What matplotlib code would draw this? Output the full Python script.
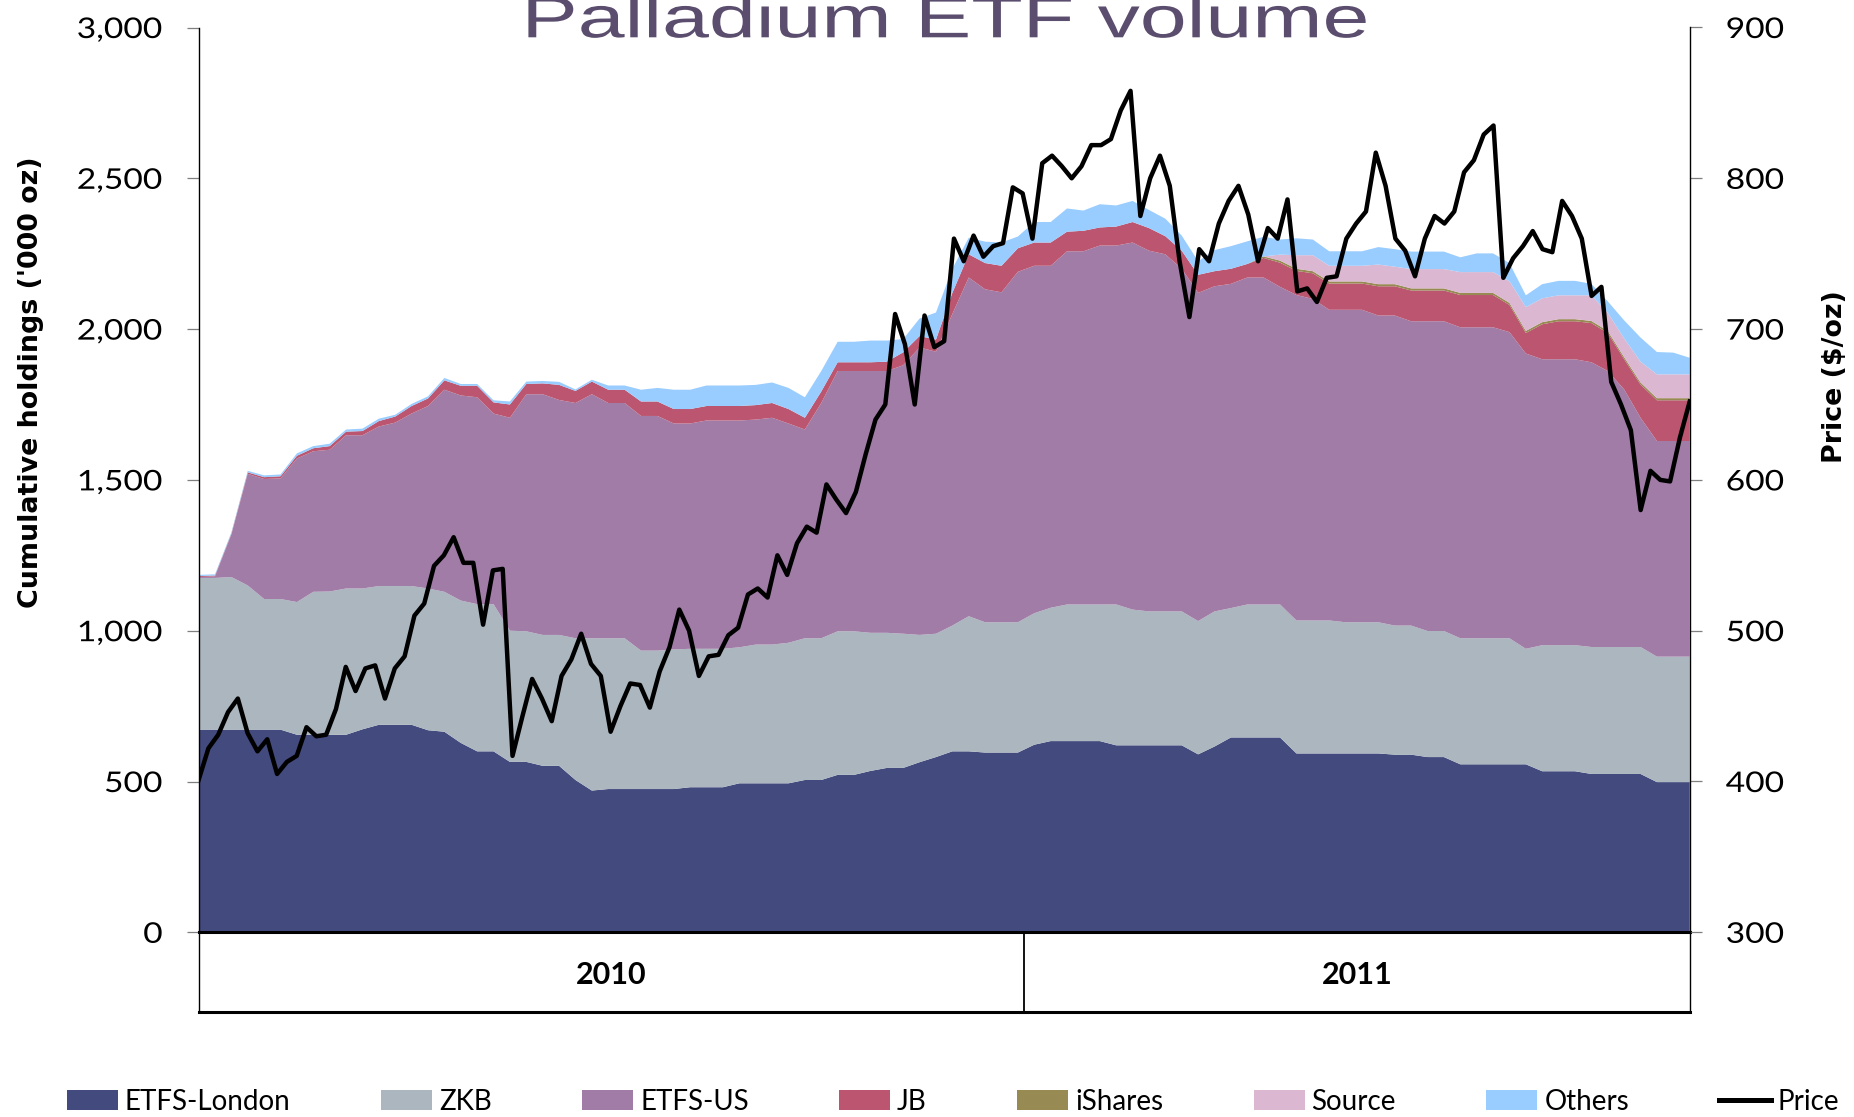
import numpy as np
import matplotlib
matplotlib.use("Agg")
import matplotlib.pyplot as plt
from matplotlib.patheffects import AbstractPathEffect
from matplotlib.transforms import Affine2D
from matplotlib.ticker import FuncFormatter, MultipleLocator
from matplotlib.patches import Patch
from matplotlib.lines import Line2D

# ---------------- data ----------------
years = ["2010", "2011"]
year_days = [252, 203]          # trading days shown per year

step_holdings = 5               # holdings sampled every 5 trading days
etfs_london = [672, 672, 672, 672, 672, 672, 655, 655, 655, 655,
               673, 688, 688, 688, 670, 665, 628, 600, 600, 565,
               565, 552, 552, 505, 470, 475, 475, 475, 475, 475,
               481, 481, 481, 494, 494, 494, 494, 505, 505, 522,
               522, 535, 545, 545, 564, 581, 600, 600, 596, 596,
               596, 622, 634, 634, 634, 634, 620, 620, 620, 620,
               620, 590, 616, 646, 646, 646, 646, 593, 593, 593,
               593, 593, 593, 589, 589, 581, 581, 557, 557, 557,
               557, 557, 534, 534, 534, 525, 525, 525, 525, 498,
               498, 498]
zkb = [503, 503, 506, 478, 433, 433, 440, 474, 475, 485,
       467, 460, 460, 460, 470, 464, 472, 488, 488, 435,
       433, 434, 434, 470, 505, 500, 500, 459, 459, 463,
       459, 459, 459, 451, 460, 460, 466, 470, 470, 476,
       476, 458, 448, 445, 422, 409, 417, 448, 432, 432,
       432, 436, 442, 453, 453, 453, 467, 450, 444, 444,
       444, 442, 448, 429, 441, 441, 441, 441, 441, 441,
       435, 435, 435, 428, 428, 418, 418, 418, 418, 418,
       418, 383, 418, 418, 418, 421, 421, 421, 421, 416,
       416, 416]
etfs_us = [3, 5, 141, 370, 398, 400, 476, 466, 470, 508,
           508, 529, 542, 572, 605, 670, 680, 686, 632, 706,
           786, 798, 779, 780, 809, 780, 780, 778, 778, 749,
           747, 757, 757, 752, 746, 752, 727, 692, 780, 863,
           863, 868, 868, 890, 953, 935, 1033, 1123, 1104, 1094,
           1162, 1152, 1134, 1171, 1171, 1190, 1190, 1217, 1196, 1184,
           1136, 1088, 1078, 1075, 1084, 1084, 1053, 1079, 1066, 1030,
           1036, 1036, 1017, 1028, 1009, 1027, 1027, 1031, 1031, 1031,
           1015, 979, 948, 948, 948, 944, 915, 854, 760, 715,
           715, 715]
jb = [3, 3, 3, 5, 6, 7, 9, 10, 12, 12,
      14, 18, 20, 25, 25, 31, 32, 38, 37, 44,
      34, 36, 50, 40, 42, 44, 44, 48, 48, 48,
      48, 48, 48, 48, 48, 49, 48, 39, 38, 29,
      29, 29, 31, 43, 38, 40, 70, 77, 87, 88,
      78, 77, 77, 65, 68, 60, 63, 68, 75, 60,
      60, 60, 50, 50, 45, 65, 80, 80, 85, 87,
      87, 87, 97, 97, 102, 102, 102, 107, 107, 107,
      90, 68, 116, 126, 126, 130, 126, 100, 110, 135,
      135, 135]
ishares = [0] * 65 + [5] + [7] * 26
source = [0] * 66 + [20, 45, 53, 52, 52, 52, 65, 58, 64, 64,
                     64, 69, 69, 69, 72, 79, 79, 79, 79, 85,
                     60, 62, 69, 79, 79, 79]
others = [4, 4, 4, 5, 6, 6, 8, 7, 8, 7,
          8, 8, 6, 7, 7, 8, 6, 6, 7, 10,
          8, 8, 10, 5, 6, 14, 14, 39, 45, 64,
          64, 68, 68, 68, 67, 68, 70, 68, 68, 68,
          68, 72, 70, 44, 58, 90, 80, 55, 71, 77,
          39, 68, 68, 77, 67, 77, 70, 70, 60, 58,
          50, 45, 70, 75, 75, 65, 50, 56, 52, 48,
          48, 48, 58, 58, 58, 58, 58, 49, 62, 62,
          60, 39, 47, 48, 48, 38, 38, 60, 80, 74,
          72, 55]

price = [401, 422, 431, 446, 455, 432, 420, 428, 405, 413,
         417, 436, 430, 431, 448, 476, 460, 475, 477, 455,
         475, 483, 510, 518, 543, 550, 562, 545, 545, 504,
         540, 541, 417, 443, 468, 455, 440, 470, 481, 498,
         478, 470, 433, 450, 465, 464, 449, 473, 489, 514,
         500, 470, 483, 484, 497, 502, 524, 528, 522, 550,
         537, 558, 569, 565, 597, 587, 578, 592, 617, 640,
         650, 710, 690, 650, 709, 688, 692, 760, 745, 762,
         748, 755, 757, 794, 790, 760, 810, 815, 808, 800,
         808, 822, 822, 826, 845, 858, 775, 800, 815, 795,
         745, 708, 753, 745, 770, 785, 795, 776, 745, 767,
         760, 786, 725, 727, 718, 734, 735, 760, 770, 778,
         817, 795, 760, 752, 735, 760, 775, 770, 778, 804,
         812, 829, 835, 734, 747, 755, 765, 753, 751, 785,
         775, 760, 722, 728, 665, 650, 633, 580, 606, 600,
         599, 628, 652]

series_names = ["ETFS-London", "ZKB", "ETFS-US", "JB", "iShares", "Source", "Others"]
series_colors = ["#434a7e", "#abb6bf", "#a07ca7", "#bb5570", "#978a52", "#dbb7d1", "#99ccff"]

# ---------------- helpers ----------------
class StretchX(AbstractPathEffect):
    """Render text glyphs stretched horizontally (the text stays a Text artist)."""
    def __init__(self, sx, anchor="left"):
        super().__init__()
        self.sx = sx
        self.anchor = anchor

    def draw_path(self, renderer, gc, tpath, affine, rgbFace=None):
        if self.anchor == "right":
            x0 = tpath.get_extents().x1
        elif self.anchor == "center":
            e = tpath.get_extents()
            x0 = 0.5 * (e.x0 + e.x1)
        else:
            x0 = 0.0
        t = Affine2D().translate(-x0, 0).scale(self.sx, 1.0).translate(x0, 0)
        renderer.draw_path(gc, tpath, t + affine, rgbFace)


W, H = 1854, 1117
fig = plt.figure(figsize=(W / 100, H / 100), dpi=100)


def fx(px):
    return px / W


def fy(py):
    return 1 - py / H


TICKFONT = ["Lato", "DejaVu Sans"]
LBLFONT = ["DejaVu Sans"]

total_days = sum(year_days)
x_h = np.minimum(np.arange(len(etfs_london)) * step_holdings, total_days)
x_p = np.linspace(0, total_days, len(price))

PL, PR, PT, PB = 198.6, 1689.7, 27.5, 932.3
BOXB = 1012.0

ax = fig.add_axes([fx(PL), fy(PB), (PR - PL) / W, (PB - PT) / H])
ax.stackplot(x_h, etfs_london, zkb, etfs_us, jb, ishares, source, others,
             colors=series_colors, linewidth=0, labels=series_names)
ax.set_xlim(0, total_days)
ax.set_ylim(0, 3000)
ax.yaxis.set_major_locator(MultipleLocator(500))
ax.yaxis.set_major_formatter(FuncFormatter(lambda v, p: f"{v:,.0f}"))
ax.tick_params(axis="x", bottom=False, labelbottom=False)
ax.tick_params(axis="y", direction="out", length=8.6, width=0.9, color="#7f7f7f",
               pad=17.3, labelsize=20.5)
for t in ax.get_yticklabels():
    t.set_family(TICKFONT)
    t.set_path_effects([StretchX(1.18, "right")])
ax.spines["top"].set_visible(False)
ax.spines["right"].set_visible(False)
ax.spines["left"].set_linewidth(1.0)
ax.spines["left"].set_color("#000000")
ax.spines["bottom"].set_linewidth(2.2)
ax.spines["bottom"].set_color("#000000")

ax2 = ax.twinx()
ax2.plot(x_p, price, color="black", lw=3.2, solid_joinstyle="round", label="Price")
ax2.set_ylim(300, 900)
ax2.set_xlim(0, total_days)
ax2.yaxis.set_major_locator(MultipleLocator(100))
ax2.tick_params(axis="y", direction="out", length=8.6, width=0.9, color="#7f7f7f",
                pad=17.3, labelsize=20.5)
for t in ax2.get_yticklabels():
    t.set_family(TICKFONT)
    t.set_path_effects([StretchX(1.18, "left")])
for s in ["top", "left", "bottom"]:
    ax2.spines[s].set_visible(False)
ax2.spines["right"].set_linewidth(1.0)
ax2.spines["right"].set_color("#000000")

# category (year) box under the plot
box = fig.add_axes([fx(PL), fy(BOXB), (PR - PL) / W, (BOXB - PB) / H])
box.set_xlim(0, total_days)
box.set_ylim(0, 1)
box.set_xticks([])
box.set_yticks([])
box.patch.set_alpha(0)
box.spines["top"].set_visible(False)
box.spines["left"].set_linewidth(1.0)
box.spines["right"].set_linewidth(1.0)
box.spines["bottom"].set_linewidth(2.2)
edges = np.concatenate([[0], np.cumsum(year_days)])
for e in edges[1:-1]:
    box.axvline(e, color="black", lw=1.3)
for i, yr in enumerate(years):
    box.text((edges[i] + edges[i + 1]) / 2, 0.47, yr, ha="center", va="center",
             fontsize=22, fontweight="bold", family=TICKFONT)

# axis titles
fig.text(fx(31), fy(382), "Cumulative holdings ('000 oz)", rotation=90,
         ha="center", va="center", fontsize=19.4, fontweight="bold", family=LBLFONT)
fig.text(fx(1835), fy(377), "Price ($/oz)", rotation=90,
         ha="center", va="center", fontsize=19.4, fontweight="bold", family=LBLFONT)

# title (horizontally stretched and cut at the top like the original)
fig.text(fx(521.5), fy(37.3), "Palladium ETF volume", ha="left", va="baseline",
         fontsize=42, color="#5b4d6e", family=["Liberation Sans", "DejaVu Sans"],
         path_effects=[StretchX(1.445, "left")])

# legend
handles = [Patch(facecolor=c, edgecolor="none") for c in series_colors]
handles.append(Line2D([], [], color="black", lw=3.6))
labels = series_names + ["Price"]
fig.legend(handles, labels, loc="center", bbox_to_anchor=(fx(953), fy(1102)),
           ncol=len(labels), frameon=False, prop={"family": TICKFONT, "size": 20},
           handlelength=1.84, handleheight=0.72, handletextpad=0.25,
           columnspacing=3.25, borderpad=0, borderaxespad=0)

fig.savefig("out.png", dpi=100)
